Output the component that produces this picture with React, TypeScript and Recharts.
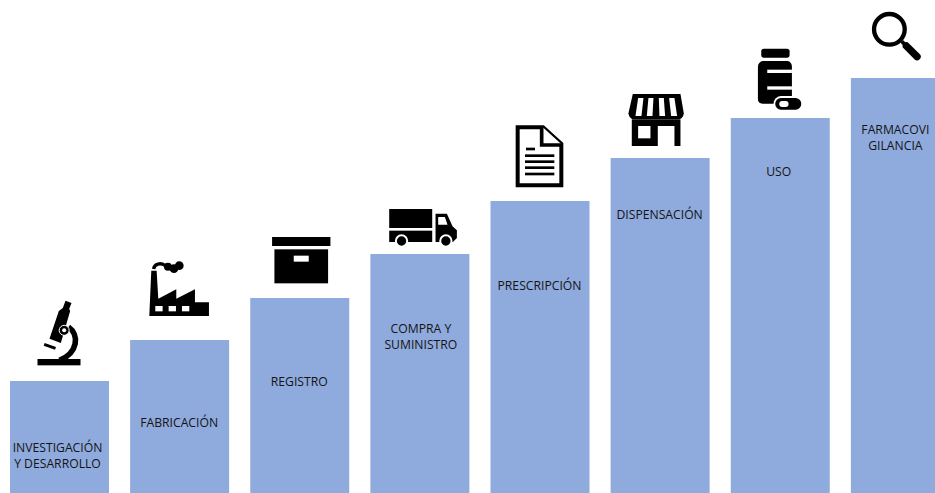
import React from "react";
import { BarChart, Bar, XAxis, YAxis, LabelList } from "recharts";

// Stages of the medicine life cycle, each one a taller step than the last.
const stages = [
  "INVESTIGACIÓN Y DESARROLLO",
  "FABRICACIÓN",
  "REGISTRO",
  "COMPRA Y SUMINISTRO",
  "PRESCRIPCIÓN",
  "DISPENSACIÓN",
  "USO",
  "FARMACOVIGILANCIA",
];
const heights = [112, 153, 195, 239, 292, 335, 375, 415];
const stageLines = [
  ["INVESTIGACIÓN", "Y DESARROLLO"],
  ["FABRICACIÓN"],
  ["REGISTRO"],
  ["COMPRA Y", "SUMINISTRO"],
  ["PRESCRIPCIÓN"],
  ["DISPENSACIÓN"],
  ["USO"],
  ["FARMACOVI", "GILANCIA"],
];

const rows = stages.map((stage, i) => ({ stage, height: heights[i], lines: stageLines[i] }));

// Distance from a bar's top to the centre of its first text line, and sideways nudge of the caption.
const firstLineDrop = [67, 83, 84, 75, 85, 57, 54, 52];
const captionNudge = [-2, -0.5, -0.5, 1, -0.5, -0.5, -1.5, -5];
const LINE_GAP = 16;
const BAR_COLOR = "#8faadc";
const INK = "#000";
const PAPER = "#fff";

// Icons are authored on a 3x grid; each one names the grid point that sits on the bar's top centre.
const Microscope = () => (
  <g>
    <rect x={112} y={358} width={129} height={19} fill={INK} />
    <path d="M196,183 L214,190 L207,208 L210,214 L182,310 L148,297 L176,214 L188,205 Z" fill={INK} />
    <path d="M205,262 C238,285 234,340 178,362" fill="none" stroke={INK} strokeWidth={17} />
    <circle cx={192} cy={272} r={15} fill={INK} stroke={PAPER} strokeWidth={3} />
    <circle cx={192} cy={272} r={6} fill={PAPER} />
    <line x1={132} y1={314} x2={166} y2={326} stroke={INK} strokeWidth={9} />
  </g>
);

const Factory = () => (
  <g>
    <path d="M447,228 L453,92 L469,92 L474,176 L528,148 L528,176 L584,148 L584,187 L626,187 L626,228 Z" fill={INK} />
    <rect x={465} y={198} width={22} height={16} fill={PAPER} />
    <rect x={505} y={198} width={22} height={16} fill={PAPER} />
    <rect x={545} y={198} width={22} height={16} fill={PAPER} />
    <path d="M460,87 C462,70 482,68 494,76" fill="none" stroke={INK} strokeWidth={10} />
    <circle cx={503} cy={80} r={12} fill={INK} />
    <circle cx={521} cy={86} r={13} fill={INK} />
    <circle cx={537} cy={77} r={13} fill={INK} />
  </g>
);

const Box = () => (
  <g>
    <rect x={815} y={-9} width={175} height={27} fill={INK} />
    <rect x={822} y={28} width={161} height={102} fill={INK} />
    <rect x={880} y={47} width={45} height={18} fill={PAPER} />
  </g>
);

const Truck = () => (
  <g>
    <rect x={85} y={388} width={129} height={57} fill={INK} />
    <rect x={85} y={453} width={129} height={34} fill={INK} />
    <path d="M224,402 L258,402 L275,440 L288,452 L288,475 L276,487 L224,487 Z" fill={INK} />
    <path d="M232,412 L252,412 L260,435 L232,435 Z" fill={PAPER} />
    <circle cx={122} cy={484} r={17} fill={INK} stroke={PAPER} strokeWidth={6} />
    <circle cx={255} cy={484} r={17} fill={INK} stroke={PAPER} strokeWidth={6} />
  </g>
);

const Doc = () => (
  <g>
    <path d="M470,143 L546,143 L601,193 L601,317 L470,317 Z" fill={PAPER} stroke={INK} strokeWidth={12} />
    <path d="M542,140 L542,196 L604,196" fill={PAPER} stroke={INK} strokeWidth={11} />
    <line x1={495} y1={208} x2={522} y2={208} stroke={INK} strokeWidth={8} />
    <line x1={492} y1={228} x2={580} y2={228} stroke={INK} strokeWidth={8} />
    <line x1={492} y1={246} x2={580} y2={246} stroke={INK} strokeWidth={8} />
    <line x1={492} y1={264} x2={580} y2={264} stroke={INK} strokeWidth={8} />
    <line x1={492} y1={283} x2={580} y2={283} stroke={INK} strokeWidth={8} />
  </g>
);

const Store = () => (
  <g>
    <path d="M815,42 L958,42 L968,100 Q966,118 950,118 L820,118 Q804,118 802,100 Z" fill={INK} />
    <path d="M831,54 L847,54 L841,108 L823,108 Z" fill={PAPER} />
    <path d="M862,54 L877,54 L874,108 L857,108 Z" fill={PAPER} />
    <path d="M893,54 L908,54 L912,108 L895,108 Z" fill={PAPER} />
    <path d="M924,54 L940,54 L948,108 L930,108 Z" fill={PAPER} />
    <rect x={812} y={118} width={146} height={80} fill={INK} />
    <rect x={831} y={138} width={37} height={37} fill={PAPER} />
    <rect x={890} y={138} width={50} height={60} fill={PAPER} />
  </g>
);

const Bottle = () => (
  <g>
    <rect x={120} y={145} width={85} height={27} rx={8} fill={INK} />
    <path d="M124,182 L200,182 Q212,186 212,200 L212,310 L124,310 Q110,310 110,296 L110,200 Q110,186 124,182 Z" fill={INK} />
    <rect x={138} y={208} width={74} height={10} fill={PAPER} />
    <rect x={138} y={258} width={74} height={10} fill={PAPER} />
    <rect x={157} y={287} width={88} height={47} rx={23} fill={PAPER} />
    <rect x={162} y={293} width={78} height={35} rx={17} fill={INK} />
    <rect x={174} y={302} width={28} height={18} rx={9} fill={PAPER} />
  </g>
);

const Lens = () => (
  <g>
    <circle cx={505} cy={88} r={46} fill="none" stroke={INK} strokeWidth={13} />
    <line x1={542} y1={124} x2={552} y2={134} stroke={INK} strokeWidth={11} />
    <line x1={556} y1={138} x2={588} y2={170} stroke={INK} strokeWidth={22} strokeLinecap="round" />
  </g>
);

const iconSet = [
  { Icon: Microscope, gridX: 178, gridY: 424 },
  { Icon: Factory, gridX: 538, gridY: 300 },
  { Icon: Box, gridX: 898, gridY: 174 },
  { Icon: Truck, gridX: 177, gridY: 523 },
  { Icon: Doc, gridX: 537, gridY: 364 },
  { Icon: Store, gridX: 897, gridY: 234 },
  { Icon: Bottle, gridX: 177, gridY: 353 },
  { Icon: Lens, gridX: 538, gridY: 234 },
];

// Draws the pictogram above a bar and its caption inside it.
const StageMark = (props: any) => {
  const box = props.viewBox ?? props;
  const { x, y, width } = box;
  const i = props.index as number;
  const cx = x + width / 2;
  const { Icon, gridX, gridY } = iconSet[i];
  return (
    <g>
      <g transform={`translate(${cx - gridX / 3} ${y - gridY / 3}) scale(${1 / 3})`}>
        <Icon />
      </g>
      <text
        textAnchor="middle"
        fontFamily="'Open Sans', 'Noto Sans', sans-serif"
        fontSize={12.2}
        fill="#141414"
      >
        {stageLines[i].map((line, k) => (
          <tspan key={line} x={cx + captionNudge[i]} y={y + firstLineDrop[i] + k * LINE_GAP} dy="0.35em">
            {line}
          </tspan>
        ))}
      </text>
    </g>
  );
};

export default function App() {
  return (
    <div
      style={{
        position: "absolute",
        left: 0,
        top: 0,
        width: 935,
        height: 493,
        overflow: "hidden",
        background: PAPER,
      }}
    >
      <BarChart
        width={960}
        height={493}
        data={rows}
        margin={{ top: 0, right: 0, bottom: 0, left: -1 }}
      >
        <XAxis dataKey="stage" hide />
        <YAxis hide domain={[0, 493]} />
        <Bar dataKey="height" fill={BAR_COLOR} barSize={99} isAnimationActive={false}>
          <LabelList dataKey="height" content={StageMark} />
        </Bar>
      </BarChart>
    </div>
  );
}
